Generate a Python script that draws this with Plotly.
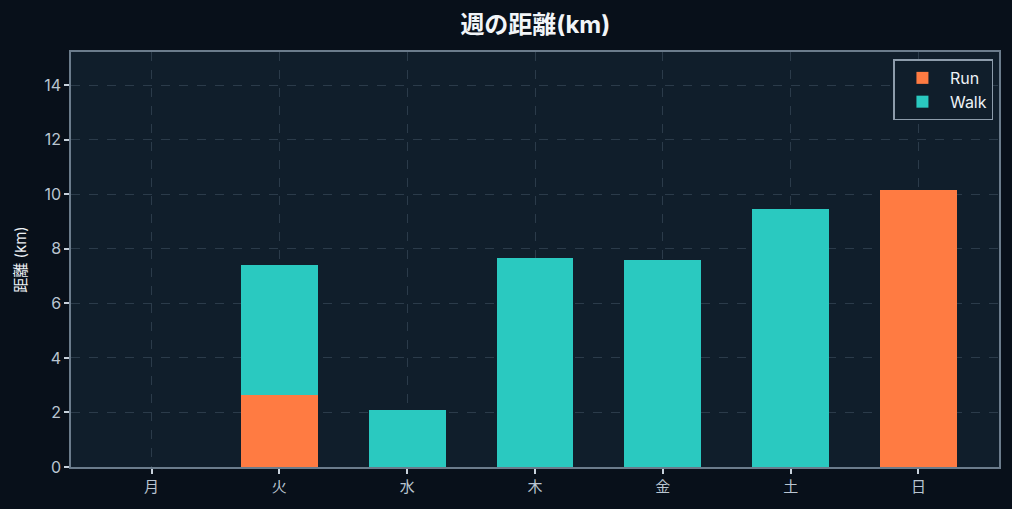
import plotly.graph_objects as go

days = ["月", "火", "水", "木", "金", "土", "日"]
run_km = [0, 2.63, 0, 0, 0, 0, 10.16]
walk_km = [0, 4.79, 2.08, 7.67, 7.60, 9.47, 0]

FONT = "Inter, Noto Sans CJK JP, sans-serif"
GRID = "#2b3b4a"
AXIS = "#6b7c8c"
TICKTXT = "#b9c5d1"

fig = go.Figure()
fig.add_trace(go.Bar(x=days, y=run_km, name="Run", marker=dict(color="#ff7b42", line_width=0),
                     width=0.6))
fig.add_trace(go.Bar(x=days, y=walk_km, name="Walk", marker=dict(color="#2ac9c0", line_width=0),
                     width=0.6))

fig.update_layout(
    barmode="stack",
    width=1012, height=509,
    paper_bgcolor="#08101a",
    plot_bgcolor="#101e2b",
    font=dict(family=FONT, color=TICKTXT, size=15),
    title=dict(text="<b>週の距離(km)</b>", x=0.529, xanchor="center", y=0.952, yanchor="middle",
               font=dict(size=24, color="#f2f5f8", family=FONT)),
    margin=dict(l=71, r=11, t=52, b=42),
    legend=dict(x=0.994, y=0.982, xanchor="right", yanchor="top",
                bgcolor="#101e2b", bordercolor="#8d9cab", borderwidth=1.5,
                itemwidth=45,
                font=dict(size=16, color="#eef2f6"), traceorder="normal"),
    showlegend=True,
)
fig.update_xaxes(
    range=[-0.63, 6.63],
    showgrid=True, gridcolor=GRID, griddash="dash", gridwidth=1,
    showline=True, linecolor=AXIS, linewidth=1.5, mirror=True,
    ticks="outside", ticklen=5, tickcolor="#c8d2dc", tickwidth=1.5,
    tickfont=dict(size=15, color=TICKTXT),
    layer="above traces",
)
fig.update_yaxes(
    range=[0, 15.22],
    dtick=2,
    showgrid=True, gridcolor=GRID, griddash="dash", gridwidth=1,
    showline=True, linecolor=AXIS, linewidth=1.5, mirror=True,
    ticks="outside", ticklen=5, tickcolor="#c8d2dc", tickwidth=1.5,
    tickfont=dict(size=16, color=TICKTXT),
    zeroline=False,
    title=dict(text="距離 (km)", font=dict(size=15, color="#eef2f6"), standoff=14),
    layer="above traces",
)

# remove the default page margin so the figure sits at the window corner
fig.write_html("out.html", config={"displayModeBar": False},
               post_script="document.body.style.margin='0';")
